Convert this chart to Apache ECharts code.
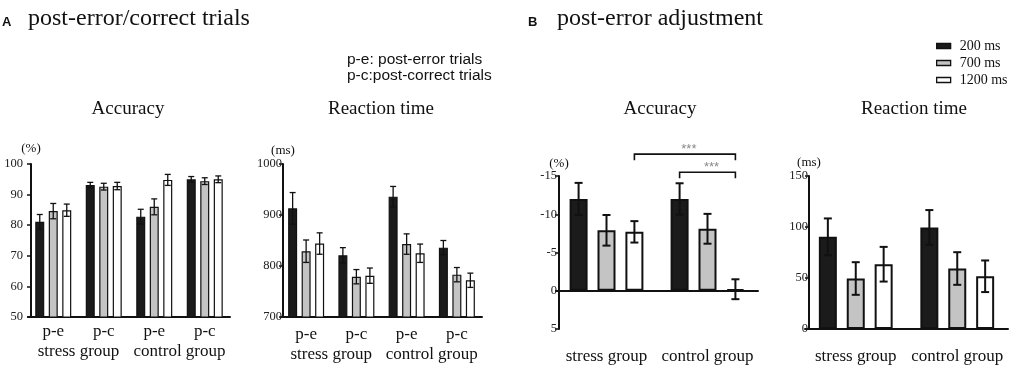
<!DOCTYPE html>
<html>
<head>
<meta charset="utf-8">
<script src="https://cdn.jsdelivr.net/npm/echarts@6/dist/echarts.min.js"></script>
<style>
html, body { margin: 0; padding: 0; background: #fff; }
#main { width: 1021px; height: 373px; }
</style>
</head>
<body>
<div id="main"></div>
<script>
var seriesNames = ['200 ms', '700 ms', '1200 ms'];
var condLabels = ['p-e', 'p-c', 'p-e', 'p-c'];
var groupLabels = ['stress group', 'control group'];

// A: post-error / post-correct accuracy (%)
var acc200 = [81.1, 93.1, 82.8, 95.0];
var acc700 = [84.6, 92.6, 86.0, 94.4];
var acc1200 = [84.9, 92.8, 94.8, 95.0];
var accSe200 = [2.4, 0.9, 2.4, 0.9];
var accSe700 = [2.5, 1.1, 2.6, 1.1];
var accSe1200 = [2.0, 1.2, 1.8, 1.1];

// A: reaction time (ms)
var rt200 = [913, 821, 936, 836];
var rt700 = [829, 779, 843, 783];
var rt1200 = [844, 781, 825, 772];
var rtSe200 = [31, 15, 20, 14];
var rtSe700 = [22, 14, 20, 14];
var rtSe1200 = [21, 15, 18, 14];

// B: post-error adjustment, accuracy (%)
var adj200 = [-12.0, -12.0];
var adj700 = [-7.9, -8.1];
var adj1200 = [-7.7, -0.2];
var adjSe200 = [2.1, 2.05];
var adjSe700 = [2.0, 1.95];
var adjSe1200 = [1.4, 1.3];

// B: post-error adjustment, reaction time (ms)
var rtAdj200 = [90.4, 99.6];
var rtAdj700 = [49.5, 59.3];
var rtAdj1200 = [63.5, 51.7];
var rtAdjSe200 = [18, 17];
var rtAdjSe700 = [16, 16];
var rtAdjSe1200 = [17, 15.5];

// significance brackets in B accuracy: [cat1, series1, cat2, series2, level]
var sigPairs = [[0, 2, 1, 2, -17.86], [1, 0, 1, 2, -15.5]];
var sigLabels = ['***', '***'];

var fills = ['#1b1b1b', '#c4c4c4', '#ffffff'];
var serif = 'Liberation Serif';

var panels = [
  { grid: { left: 28, top: 164, width: 202, height: 153 }, yOff: -3, min: 50, max: 100, interval: 10,
    name: '(%)', nameGap: 9, cats: condLabels, groups: groupLabels, m1: 6, m2: 26,
    means: [acc200, acc700, acc1200], ses: [accSe200, accSe700, accSe1200],
    barW: 9, gap: 0.5, capW: 6, lw: 1.3, bw: 1.2, lblMargin: 8 },
  { grid: { left: 281, top: 164, width: 201, height: 153 }, yOff: -2, min: 700, max: 1000, interval: 100,
    name: '(ms)', nameGap: 7, cats: condLabels, groups: groupLabels, m1: 9, m2: 29,
    means: [rt200, rt700, rt1200], ses: [rtSe200, rtSe700, rtSe1200],
    barW: 9, gap: 0.5, capW: 6, lw: 1.3, bw: 1.2, lblMargin: 1 },
  { grid: { left: 556, top: 176, width: 202, height: 153 }, yOff: -3, min: -15, max: 5, interval: 5,
    inverse: true, name: '(%)', nameGap: 6, cats: groupLabels, groups: null, m1: 19,
    means: [adj200, adj700, adj1200], ses: [adjSe200, adjSe700, adjSe1200],
    barW: 18, gap: 0.55, capW: 8, lw: 2, bw: 2, lblMargin: 2 },
  { grid: { left: 805, top: 176, width: 203, height: 153 }, yOff: -4, min: 0, max: 150, interval: 50,
    name: '(ms)', nameGap: 7, cats: groupLabels, groups: null, m1: 19,
    means: [rtAdj200, rtAdj700, rtAdj1200], ses: [rtAdjSe200, rtAdjSe700, rtAdjSe1200],
    barW: 18, gap: 0.55, capW: 8, lw: 2, bw: 2, lblMargin: 1 }
];

var grids = [], xAxes = [], yAxes = [], series = [];

function errRender(p) {
  return function (params, api) {
    var cat = api.value(0), si = api.value(1), m = api.value(2), se = api.value(3);
    var off = (si - 1) * p.barW * (1 + p.gap);
    var hi = api.coord([cat, m + se]);
    var lo = api.coord([cat, m - se]);
    var x = hi[0] + off, h = p.capW / 2;
    var st = { stroke: '#111', lineWidth: p.lw };
    return { type: 'group', children: [
      { type: 'line', shape: { x1: x, y1: hi[1], x2: x, y2: lo[1] }, style: st },
      { type: 'line', shape: { x1: x - h, y1: hi[1], x2: x + h, y2: hi[1] }, style: st },
      { type: 'line', shape: { x1: x - h, y1: lo[1], x2: x + h, y2: lo[1] }, style: st }
    ] };
  };
}

function labelAxis(gi, data, margin) {
  return {
    type: 'category', gridIndex: gi, data: data, position: 'bottom',
    axisLine: { show: false, onZero: false }, axisTick: { show: false },
    axisLabel: { interval: 0, margin: margin, fontFamily: serif, fontSize: 17, color: '#111' }
  };
}

panels.forEach(function (p, gi) {
  grids.push(p.grid);
  var xi = xAxes.length;
  var ownLabels = !p.inverse;
  xAxes.push({
    type: 'category', gridIndex: gi, data: p.cats, position: 'bottom',
    axisLine: { lineStyle: { color: '#111', width: 2 } },
    axisTick: { show: false },
    axisLabel: { show: ownLabels, interval: 0, margin: p.m1, fontFamily: serif, fontSize: 17, color: '#111' }
  });
  if (p.groups) {
    xAxes.push(labelAxis(gi, p.groups, p.m2));
  } else if (p.inverse) {
    xAxes.push(labelAxis(gi, p.cats, p.m1));
  }
  yAxes.push({
    type: 'value', gridIndex: gi, min: p.min, max: p.max, interval: p.interval,
    inverse: !!p.inverse, offset: p.yOff,
    name: p.name, nameLocation: p.inverse ? 'start' : 'end', nameGap: p.nameGap,
    nameTextStyle: { fontFamily: serif, fontSize: 13, color: '#111' },
    axisLine: { show: true, lineStyle: { color: '#111', width: 2 } },
    axisTick: { show: true, length: 4, lineStyle: { color: '#111', width: 1.5 } },
    axisLabel: { margin: p.lblMargin, fontFamily: serif, fontSize: 12.5, color: '#222',
      formatter: function (v) { return String(v); } },
    splitLine: { show: false }
  });
  var errData = [];
  p.means.forEach(function (vals, si) {
    series.push({
      type: 'bar', name: seriesNames[si], xAxisIndex: xi, yAxisIndex: gi,
      data: vals, barWidth: p.barW, barGap: (p.gap * 100) + '%',
      itemStyle: { color: fills[si], borderColor: '#111', borderWidth: p.bw },
      emphasis: { disabled: true }, silent: true
    });
    vals.forEach(function (v, ci) { errData.push([ci, si, v, p.ses[si][ci]]); });
  });
  series.push({
    type: 'custom', xAxisIndex: xi, yAxisIndex: gi, z: 5, silent: true,
    encode: { x: 0, y: 2 }, renderItem: errRender(p), data: errData
  });
  if (p.inverse) {
    series.push({
      type: 'custom', xAxisIndex: xi, yAxisIndex: gi, z: 5, silent: true, clip: false,
      encode: { x: 0, y: 4 }, data: sigPairs,
      renderItem: function (params, api) {
        var step = p.barW * (1 + p.gap);
        var lvl = api.value(4);
        var a = api.coord([api.value(0), lvl]), b = api.coord([api.value(2), lvl]);
        var d = api.coord([api.value(0), lvl + 0.8]);
        var x1 = a[0] + (api.value(1) - 1) * step, x2 = b[0] + (api.value(3) - 1) * step;
        var st = { stroke: '#111', lineWidth: 1.6, fill: null };
        return { type: 'group', children: [
          { type: 'polyline', shape: { points: [[x1, d[1]], [x1, a[1]], [x2, a[1]], [x2, d[1]]] }, style: st },
          { type: 'text', style: { text: sigLabels[params.dataIndex], x: (x1 + x2) / 2 + 4, y: a[1] - 5,
            textAlign: 'center', verticalAlign: 'middle', textVerticalAlign: 'middle',
            fill: '#8a8a8a', font: '13px Liberation Sans' } }
        ] };
      }
    });
  }
});

function txt(s, x, y, font, align) {
  return { type: 'text', x: x, y: y, silent: true,
    style: { text: s, font: font, fill: '#111', textAlign: align || 'left',
      verticalAlign: 'middle', textVerticalAlign: 'middle' } };
}

var option = {
  animation: false,
  backgroundColor: '#fff',
  grid: grids,
  xAxis: xAxes,
  yAxis: yAxes,
  series: series,
  legend: {
    orient: 'vertical', left: 936, top: 39, padding: 0, itemGap: 3,
    itemWidth: 14, itemHeight: 5, icon: 'rect', selectedMode: false,
    data: seriesNames,
    itemStyle: { borderColor: '#111', borderWidth: 1.3 },
    textStyle: { fontFamily: serif, fontSize: 14, color: '#111', padding: [0, 0, 0, 4] }
  },
  graphic: [
    txt('A', 2, 22, 'bold 13px Liberation Sans'),
    txt('post-error/correct trials', 28, 19, '24px Liberation Serif'),
    txt('B', 528, 22, 'bold 13px Liberation Sans'),
    txt('post-error adjustment', 557, 19, '24px Liberation Serif'),
    txt('p-e: post-error trials', 347, 60, '15.5px Liberation Sans'),
    txt('p-c:post-correct trials', 347, 76, '15.5px Liberation Sans'),
    txt('Accuracy', 128, 109, '19px Liberation Serif', 'center'),
    txt('Reaction time', 381, 109, '19px Liberation Serif', 'center'),
    txt('Accuracy', 660, 109, '19px Liberation Serif', 'center'),
    txt('Reaction time', 914, 109, '19px Liberation Serif', 'center')
  ]
};

var chart = echarts.init(document.getElementById('main'), null, { renderer: 'canvas' });
chart.setOption(option);
</script>
</body>
</html>
